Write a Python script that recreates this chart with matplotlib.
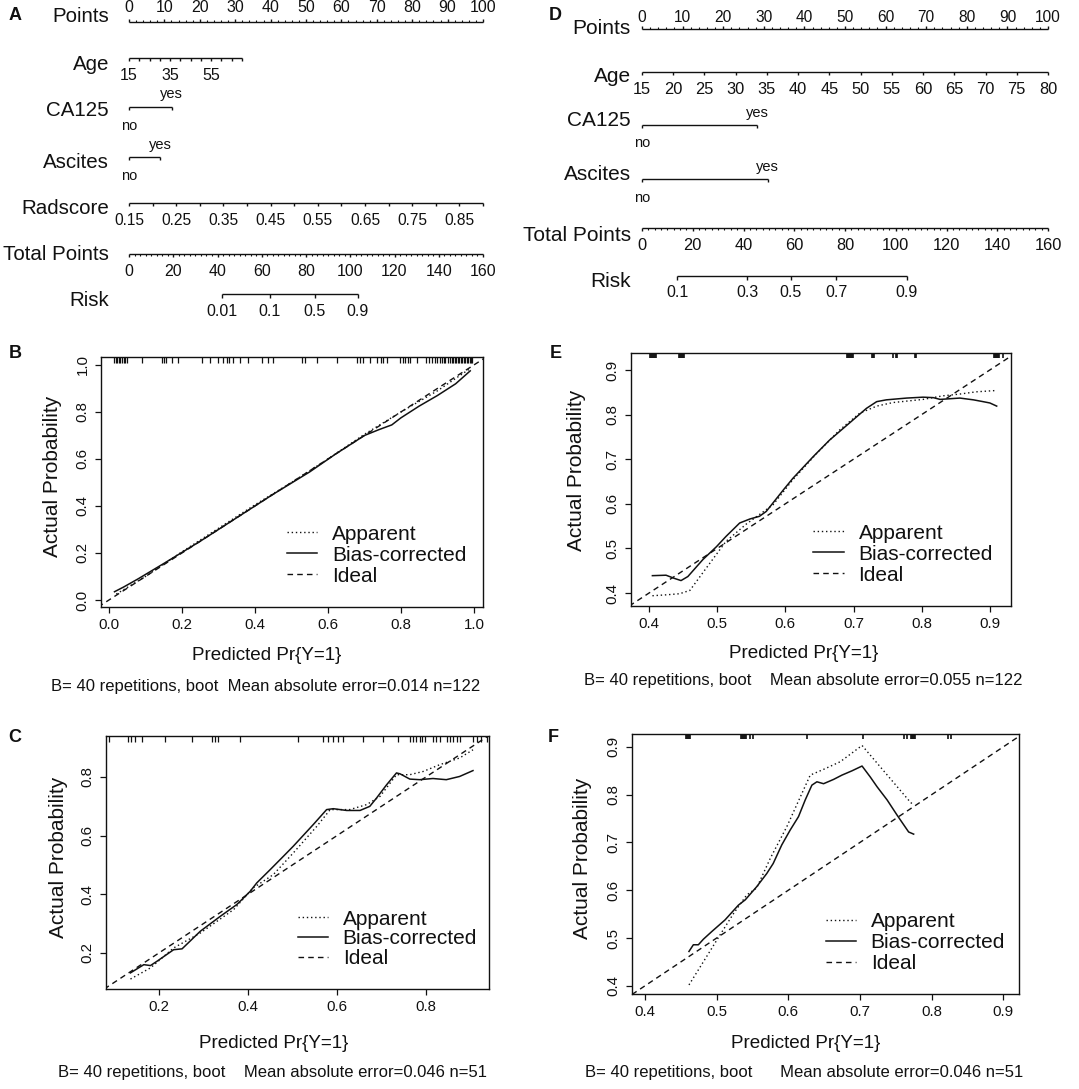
import numpy as np
import matplotlib
matplotlib.use("Agg")
import matplotlib.pyplot as plt
from matplotlib import font_manager

# ---------------- data ----------------
# Panel A nomogram
A_points_labels = [0, 10, 20, 30, 40, 50, 60, 70, 80, 90, 100]
A_age_range = (15, 70)
A_age_max_points = 31.9
A_age_labels = [15, 35, 55]
A_ca125_yes_points = 12.1
A_ascites_yes_points = 8.8
A_rad_range = (0.15, 0.90)
A_rad_labels = [0.15, 0.25, 0.35, 0.45, 0.55, 0.65, 0.75, 0.85]
A_total_labels = [0, 20, 40, 60, 80, 100, 120, 140, 160]
A_risk_labels = ["0.01", "0.1", "0.5", "0.9"]
A_risk_total = [42.0, 63.7, 84.0, 103.5]

# Panel D nomogram
D_points_labels = [0, 10, 20, 30, 40, 50, 60, 70, 80, 90, 100]
D_age_range = (15, 80)
D_age_labels = [15, 20, 25, 30, 35, 40, 45, 50, 55, 60, 65, 70, 75, 80]
D_ca125_yes_points = 28.3
D_ascites_yes_points = 31.0
D_total_labels = [0, 20, 40, 60, 80, 100, 120, 140, 160]
D_risk_labels = ["0.1", "0.3", "0.5", "0.7", "0.9"]
D_risk_total = [13.8, 41.4, 58.7, 76.5, 104.4]

# Panel B calibration
B_app_x = [0.02, 0.1, 0.2, 0.3, 0.4, 0.5, 0.6, 0.7, 0.8, 0.9, 0.99]
B_app_y = [0.025, 0.1, 0.205, 0.305, 0.405, 0.5, 0.6, 0.705, 0.8, 0.89, 0.985]
B_bc_x = [0.015, 0.04, 0.08, 0.15, 0.25, 0.35, 0.45, 0.55, 0.62, 0.7, 0.74, 0.775, 0.8, 0.85, 0.9, 0.95, 0.99]
B_bc_y = [0.035, 0.055, 0.09, 0.155, 0.25, 0.35, 0.45, 0.545, 0.62, 0.7, 0.725, 0.745, 0.775, 0.825, 0.87, 0.92, 0.975]
B_rug = [0.014, 0.019, 0.023, 0.027, 0.031, 0.036, 0.040, 0.045, 0.049, 0.09,
         0.145, 0.15, 0.155, 0.172, 0.19, 0.255, 0.277, 0.30, 0.312, 0.322, 0.33, 0.34,
         0.36, 0.38, 0.42, 0.435, 0.45, 0.53, 0.537, 0.57, 0.624, 0.68, 0.688, 0.696,
         0.715, 0.734, 0.745, 0.752, 0.762, 0.797, 0.805, 0.812, 0.82, 0.826, 0.844,
         0.87, 0.876, 0.885, 0.893, 0.90, 0.906, 0.912, 0.918, 0.922, 0.928, 0.934,
         0.94, 0.944, 0.948, 0.952, 0.956, 0.96, 0.964, 0.968, 0.972, 0.976, 0.98,
         0.984, 0.988, 0.992, 0.995]

# Panel E calibration
E_app_x = [0.405, 0.425, 0.445, 0.46, 0.484, 0.513, 0.543, 0.582, 0.611, 0.646, 0.68, 0.709, 0.734, 0.758, 0.802, 0.831, 0.856, 0.88, 0.91]
E_app_y = [0.394, 0.396, 0.3985, 0.406, 0.456, 0.516, 0.555, 0.598, 0.654, 0.713, 0.766, 0.803, 0.819, 0.827, 0.834, 0.842, 0.846, 0.851, 0.854]
E_bc_x = [0.405, 0.425, 0.437, 0.447, 0.457, 0.479, 0.499, 0.513, 0.533, 0.548, 0.562, 0.572, 0.597, 0.611, 0.641, 0.665, 0.694, 0.719, 0.734, 0.748, 0.778, 0.802, 0.817, 0.827, 0.856, 0.876, 0.890, 0.900, 0.910]
E_bc_y = [0.439, 0.440, 0.433, 0.428, 0.437, 0.475, 0.504, 0.527, 0.557, 0.566, 0.572, 0.583, 0.631, 0.657, 0.706, 0.743, 0.781, 0.814, 0.829, 0.833, 0.837, 0.839, 0.838, 0.834, 0.837, 0.833, 0.829, 0.826, 0.819]
E_rug = [0.401, 0.4025, 0.404, 0.4055, 0.407, 0.4085, 0.41,
         0.444, 0.4455, 0.447, 0.4485, 0.45, 0.4515,
         0.690, 0.6915, 0.693, 0.6945, 0.696, 0.6975, 0.699,
         0.727, 0.7285, 0.730, 0.758, 0.762, 0.764, 0.790, 0.792,
         0.906, 0.9075, 0.909, 0.9105, 0.912, 0.9135, 0.919]

# Panel C calibration
C_app_x = [0.136, 0.181, 0.233, 0.293, 0.368, 0.412, 0.457, 0.502, 0.555, 0.585, 0.629, 0.667, 0.697, 0.734, 0.764, 0.794, 0.831, 0.876, 0.906]
C_app_y = [0.111, 0.149, 0.217, 0.268, 0.348, 0.422, 0.467, 0.541, 0.632, 0.689, 0.689, 0.706, 0.734, 0.808, 0.808, 0.819, 0.842, 0.865, 0.893]
C_bc_x = [0.136, 0.166, 0.181, 0.196, 0.233, 0.252, 0.293, 0.338, 0.375, 0.405, 0.42, 0.45, 0.48, 0.502, 0.547, 0.577, 0.592, 0.622, 0.652, 0.674, 0.689, 0.712, 0.734, 0.742, 0.764, 0.786, 0.816, 0.846, 0.876, 0.906]
C_bc_y = [0.132, 0.160, 0.157, 0.172, 0.211, 0.214, 0.274, 0.325, 0.365, 0.410, 0.439, 0.484, 0.530, 0.564, 0.638, 0.689, 0.692, 0.686, 0.686, 0.700, 0.728, 0.774, 0.814, 0.811, 0.793, 0.791, 0.795, 0.791, 0.802, 0.822]
C_rug = [0.088, 0.130, 0.138, 0.146, 0.162, 0.213, 0.274, 0.319, 0.326, 0.333, 0.382,
         0.512, 0.569, 0.58, 0.591, 0.602, 0.613, 0.658, 0.703, 0.737, 0.764, 0.772,
         0.778, 0.786, 0.792, 0.798, 0.816, 0.823, 0.831, 0.847, 0.855, 0.862, 0.869,
         0.876, 0.906, 0.915, 0.925, 0.937]

# Panel F calibration
F_app_x = [0.4615, 0.486, 0.505, 0.5235, 0.542, 0.556, 0.575, 0.598, 0.621, 0.6307, 0.6493, 0.6726, 0.703, 0.770, 0.775]
F_app_y = [0.402, 0.461, 0.507, 0.551, 0.590, 0.605, 0.667, 0.733, 0.809, 0.841, 0.853, 0.869, 0.903, 0.785, 0.778]
F_bc_x = [0.4615, 0.4676, 0.4746, 0.4815, 0.4932, 0.5118, 0.5305, 0.54, 0.556, 0.570, 0.579, 0.591, 0.6027, 0.6143, 0.6237, 0.633, 0.64, 0.6493, 0.6633, 0.675, 0.689, 0.703, 0.7145, 0.724, 0.738, 0.752, 0.768, 0.775]
F_bc_y = [0.472, 0.486, 0.486, 0.4975, 0.5135, 0.538, 0.569, 0.58, 0.6075, 0.635, 0.656, 0.695, 0.726, 0.754, 0.789, 0.820, 0.827, 0.823, 0.832, 0.841, 0.850, 0.860, 0.837, 0.8165, 0.789, 0.757, 0.722, 0.7175]
F_rug = [0.457, 0.4585, 0.460, 0.4615, 0.463, 0.534, 0.5355, 0.537, 0.5385, 0.540,
         0.5415, 0.547, 0.551, 0.626, 0.704, 0.761, 0.766, 0.771, 0.7725, 0.774,
         0.7755, 0.777, 0.8226, 0.8273]

legend_labels = ["Apparent", "Bias-corrected", "Ideal"]
B_sub = "B= 40 repetitions, boot  Mean absolute error=0.014 n=122"
E_sub = "B= 40 repetitions, boot    Mean absolute error=0.055 n=122"
C_sub = "B= 40 repetitions, boot    Mean absolute error=0.046 n=51"
F_sub = "B= 40 repetitions, boot      Mean absolute error=0.046 n=51"

# ---------------- style ----------------
W, H = 1079, 1089
INK = "#111111"
names = {f.name for f in font_manager.fontManager.ttflist}
REG = "Liberation Sans" if "Liberation Sans" in names else "DejaVu Sans"
plt.rcParams["font.family"] = [REG, "DejaVu Sans"]
plt.rcParams["text.color"] = INK

fig = plt.figure(figsize=(W / 100, H / 100), dpi=100)
fig.patch.set_facecolor("white")


def rect(x0, y0, x1, y1):
    return [x0 / W, 1 - y1 / H, (x1 - x0) / W, (y1 - y0) / H]


def ftext(x, y, s, **kw):
    fig.text(x / W, 1 - y / H, s, **kw)


# ---------------- nomograms ----------------
def nomo_axes(region, p0, p100):
    x0, y0, x1, y1 = region
    ax = fig.add_axes(rect(*region))
    ax.set_axis_off()
    k = 100.0 / (p100 - p0)
    ax.set_xlim((x0 - p0) * k, (x1 - p0) * k)
    ax.set_ylim(y1, y0)
    return ax, k


def scale_row(ax, y, x_start, x_end, major_x, labels=None, label_y=None,
              up=False, minor_x=(), maj_len=3.5, min_len=1.8, fs=11):
    ax.plot([x_start, x_end], [y, y], color=INK, lw=1.0, solid_capstyle="butt")
    s = -1 if up else 1
    ax.vlines(major_x, y, y + s * maj_len, color=INK, lw=1.0)
    if len(minor_x):
        ax.vlines(minor_x, y, y + s * min_len, color=INK, lw=0.8)
    if labels is not None:
        for xx, lab in zip(major_x, labels):
            ax.text(xx, label_y, lab, ha="center", va="center", fontsize=fs)


def row_label(ax, xr, y, s, fs=14.8):
    ax.text(xr, y, s, ha="right", va="center", fontsize=fs)


# Panel A
axA, kA = nomo_axes((0, 0, 540, 320), 129, 483)
lxA = (109 - 129) * kA
pts_minor = [v for v in np.arange(0, 100.1, 2) if v % 10]
scale_row(axA, 22, 0, 100, A_points_labels, [str(v) for v in A_points_labels], 8,
          up=True, minor_x=pts_minor, maj_len=3.2, min_len=1.6, fs=11.5)
row_label(axA, lxA, 17, "Points")

age_ticks = np.arange(A_age_range[0], A_age_range[1] + 0.1, 5)
age_pts = lambda a: (np.asarray(a) - A_age_range[0]) / (A_age_range[1] - A_age_range[0]) * A_age_max_points
scale_row(axA, 58, 0, A_age_max_points, age_pts(age_ticks), None, maj_len=3.2)
for a in A_age_labels:
    axA.text(age_pts(a), 75, str(a), ha="center", va="center", fontsize=11.5)
row_label(axA, lxA, 65, "Age")

scale_row(axA, 107, 0, A_ca125_yes_points, [0, A_ca125_yes_points], None, maj_len=3.0)
axA.text(A_ca125_yes_points, 94, "yes", ha="center", va="center", fontsize=10.5)
axA.text(0, 126, "no", ha="center", va="center", fontsize=10.5)
row_label(axA, lxA, 110, "CA125")

scale_row(axA, 157, 0, A_ascites_yes_points, [0, A_ascites_yes_points], None, maj_len=3.0)
axA.text(A_ascites_yes_points, 145, "yes", ha="center", va="center", fontsize=10.5)
axA.text(0, 176, "no", ha="center", va="center", fontsize=10.5)
row_label(axA, lxA, 163, "Ascites")

rad_pts = lambda r: (np.asarray(r) - A_rad_range[0]) / (A_rad_range[1] - A_rad_range[0]) * 100
rad_ticks = np.arange(A_rad_range[0], A_rad_range[1] + 1e-6, 0.05)
scale_row(axA, 203, 0, 100, rad_pts(rad_ticks), None, maj_len=3.2)
for r in A_rad_labels:
    axA.text(rad_pts(r), 221, f"{r:.2f}", ha="center", va="center", fontsize=11.2)
row_label(axA, lxA, 208, "Radscore")

tp = lambda t: np.asarray(t, dtype=float) * 100 / 160
tp_minor = [v for v in np.arange(0, 160.1, 2.5) if v % 20]
scale_row(axA, 254, 0, 100, tp(A_total_labels), [str(v) for v in A_total_labels], 272,
          minor_x=tp(tp_minor), maj_len=3.4, min_len=1.7, fs=11.5)
row_label(axA, lxA, 255, "Total Points")

scale_row(axA, 294, tp(A_risk_total[0]), tp(A_risk_total[-1]), tp(A_risk_total),
          A_risk_labels, 312, maj_len=3.6, fs=11.5)
row_label(axA, lxA, 301, "Risk")
ftext(15, 15, "A", fontsize=13, fontweight="bold", ha="center", va="center")

# Panel D
axD, kD = nomo_axes((540, 0, 1079, 320), 642, 1048)
lxD = (631 - 642) * kD
scale_row(axD, 29, 0, 100, D_points_labels, [str(v) for v in D_points_labels], 17,
          up=True, minor_x=pts_minor, maj_len=3.2, min_len=1.6, fs=11.2)
row_label(axD, lxD, 28, "Points", fs=15)

dage_pts = lambda a: (np.asarray(a, dtype=float) - D_age_range[0]) / (D_age_range[1] - D_age_range[0]) * 100
scale_row(axD, 72, 0, 100, dage_pts(D_age_labels), [str(v) for v in D_age_labels], 89,
          maj_len=3.4, fs=11.8)
row_label(axD, lxD, 76, "Age", fs=15)

scale_row(axD, 125, 0, D_ca125_yes_points, [0, D_ca125_yes_points], None, maj_len=3.0)
axD.text(D_ca125_yes_points, 113, "yes", ha="center", va="center", fontsize=10.5)
axD.text(0, 143, "no", ha="center", va="center", fontsize=10.5)
row_label(axD, lxD, 120, "CA125", fs=15)

scale_row(axD, 179, 0, D_ascites_yes_points, [0, D_ascites_yes_points], None, maj_len=3.0)
axD.text(D_ascites_yes_points, 167, "yes", ha="center", va="center", fontsize=10.5)
axD.text(0, 198, "no", ha="center", va="center", fontsize=10.5)
row_label(axD, lxD, 174, "Ascites", fs=15)

scale_row(axD, 228, 0, 100, tp(D_total_labels), [str(v) for v in D_total_labels], 246,
          minor_x=tp(tp_minor), maj_len=3.4, min_len=1.7, fs=11.8)
row_label(axD, lxD, 236, "Total Points", fs=15)

scale_row(axD, 276, tp(D_risk_total[0]), tp(D_risk_total[-1]), tp(D_risk_total),
          D_risk_labels, 293, maj_len=3.6, fs=11.5)
row_label(axD, lxD, 282, "Risk", fs=15)
ftext(555, 15, "D", fontsize=13, fontweight="bold", ha="center", va="center")


# ---------------- calibration plots ----------------
def calib(box, xlim, ylim, xticks, yticks, rug, app_x, app_y, bc_x, bc_y,
          leg_anchor, letter, letter_xy, ylab_xy, xlab_xy, sub_xy, sub, rug_len=0.022,
          spacing=0.1, rug_lw=0.9):
    ax = fig.add_axes(rect(*box))
    ax.set_xlim(*xlim)
    ax.set_ylim(*ylim)
    lo = min(xlim[0], ylim[0])
    hi = max(xlim[1], ylim[1])
    l_app, = ax.plot(app_x, app_y, color=INK, lw=1.0, ls=(0, (1, 2)))
    l_bc, = ax.plot(bc_x, bc_y, color=INK, lw=1.1, ls="-")
    l_id, = ax.plot([lo, hi], [lo, hi], color=INK, lw=1.0, ls=(0, (4, 3)))
    ax.vlines(rug, 1 - rug_len, 1, transform=ax.get_xaxis_transform(), color=INK, lw=rug_lw)
    ax.set_xticks(xticks)
    ax.set_yticks(yticks)
    ax.set_xticklabels([f"{v:.1f}" for v in xticks])
    ax.set_yticklabels([f"{v:.1f}" for v in yticks], rotation=90, va="center")
    ax.tick_params(direction="out", length=4.3, width=0.9, labelsize=10.8, colors=INK)
    ax.tick_params(axis="x", pad=3.6)
    ax.tick_params(axis="y", pad=4.0)
    for sp in ax.spines.values():
        sp.set_linewidth(1.0)
        sp.set_color(INK)
    ax.legend([l_app, l_bc, l_id], legend_labels, loc="upper left",
              bbox_to_anchor=leg_anchor, frameon=False,
              prop={"size": 15}, handlelength=1.45,
              handletextpad=0.72, labelspacing=spacing, borderpad=0,
              borderaxespad=0)
    ftext(*letter_xy, letter, fontsize=13, fontweight="bold", ha="center", va="center")
    ftext(*ylab_xy, "Actual Probability", fontsize=15, rotation=90,
          ha="center", va="center")
    ftext(*xlab_xy, "Predicted Pr{Y=1}", fontsize=13.6, ha="center", va="center")
    ftext(*sub_xy, sub, fontsize=12, ha="center", va="center")
    return ax


calib((101, 357, 483, 607), (-0.022, 1.025), (-0.03, 1.034),
      [0.0, 0.2, 0.4, 0.6, 0.8, 1.0], [0.0, 0.2, 0.4, 0.6, 0.8, 1.0], B_rug,
      B_app_x, B_app_y, B_bc_x, B_bc_y, (0.487, 0.33), "B", (15, 353),
      (53, 476), (267, 655), (266, 686), B_sub)

calib((631, 353, 1011, 606), (0.3736, 0.931), (0.371, 0.938),
      [0.4, 0.5, 0.6, 0.7, 0.8, 0.9], [0.4, 0.5, 0.6, 0.7, 0.8, 0.9], E_rug,
      E_app_x, E_app_y, E_bc_x, E_bc_y, (0.48, 0.326), "E", (556, 353),
      (577, 470), (804, 653), (803, 680), E_sub, rug_len=0.018, rug_lw=1.2)

calib((106, 736, 489, 989), (0.081, 0.942), (0.077, 0.94),
      [0.2, 0.4, 0.6, 0.8], [0.2, 0.4, 0.6, 0.8], C_rug,
      C_app_x, C_app_y, C_bc_x, C_bc_y, (0.50, 0.314), "C", (15, 737),
      (58, 857), (274, 1043), (272, 1073), C_sub, spacing=0.03)

calib((632, 734, 1019, 994), (0.382, 0.922), (0.383, 0.927),
      [0.4, 0.5, 0.6, 0.7, 0.8, 0.9], [0.4, 0.5, 0.6, 0.7, 0.8, 0.9], F_rug,
      F_app_x, F_app_y, F_bc_x, F_bc_y, (0.50, 0.316), "F", (553, 737),
      (582, 858), (806, 1044), (804, 1073), F_sub, rug_len=0.018, rug_lw=1.2)

fig.savefig("out.png", dpi=100, facecolor="white")
